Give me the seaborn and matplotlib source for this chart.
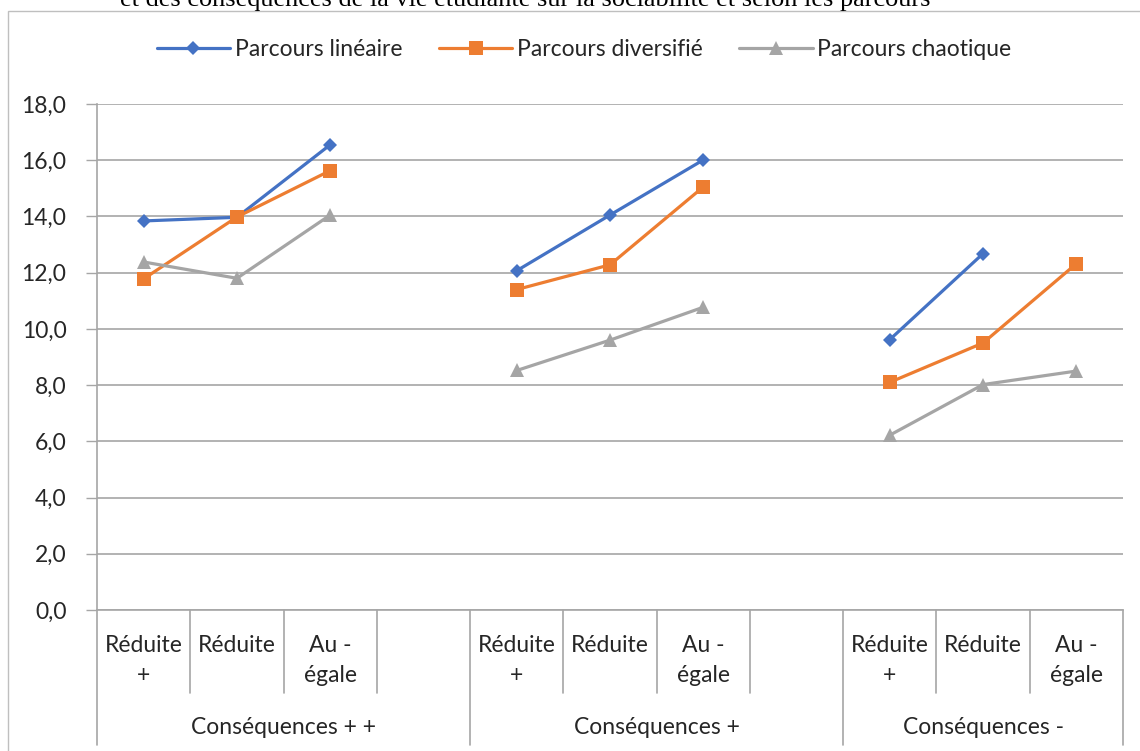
import numpy as np
import pandas as pd
import matplotlib
matplotlib.use("Agg")
import matplotlib.pyplot as plt
from matplotlib.lines import Line2D
from matplotlib.patches import Rectangle
import matplotlib.transforms as mtransforms
import seaborn as sns

# ---------------- data ----------------
groups = ["Conséquences + +", "Conséquences +", "Conséquences -"]
slot_labels = ["Réduite\n+", "Réduite", "Au -\négale", "",
               "Réduite\n+", "Réduite", "Au -\négale", "",
               "Réduite\n+", "Réduite", "Au -\négale"]
slot_group = [0, 0, 0, 0, 1, 1, 1, 1, 2, 2, 2]

series_names = ["Parcours linéaire", "Parcours diversifié", "Parcours chaotique"]
lineaire = [13.84, 13.97, 16.55, np.nan, 12.07, 14.05, 16.01, np.nan, 9.62, 12.68, np.nan]
diversifie = [11.78, 13.98, 15.63, np.nan, 11.40, 12.28, 15.05, np.nan, 8.10, 9.50, 12.32]
chaotique = [12.38, 11.80, 14.05, np.nan, 8.52, 9.60, 10.77, np.nan, 6.22, 8.02, 8.50]

colors = ["#4472C4", "#ED7D31", "#A5A5A5"]
markers = ["D", "s", "^"]
msizes = [7, 10, 10.5]

# ---------------- figure ----------------
sns.set_theme(style="white")
plt.rcParams["font.family"] = ["Lato", "DejaVu Sans"]

W, H = 1140, 751
fig = plt.figure(figsize=(W / 100, H / 100), dpi=100)
ax = fig.add_axes([97 / W, 1 - 610 / H, (1123 - 97) / W, (610 - 104) / H])

# outer chart frame
fig.patches.append(Rectangle((8 / W, -0.05), 1.2, 1 - 11 / H + 0.05,
                             transform=fig.transFigure, fill=False,
                             edgecolor="#BFBFBF", linewidth=1.0, zorder=0))

# cut-off caption at the top
fig.text(120 / W, 1 - 6 / H,
         "et des conséquences de la vie étudiante sur la sociabilité et selon les parcours",
         family=["Liberation Serif", "DejaVu Serif"], fontsize=18.9,
         ha="left", va="baseline", color="black")

rows = []
for name, vals in zip(series_names, [lineaire, diversifie, chaotique]):
    for i, v in enumerate(vals):
        rows.append({"Parcours": name, "x": i, "valeur": v, "groupe": slot_group[i]})
df = pd.DataFrame(rows).dropna()

for name, c, m, ms in zip(series_names, colors, markers, msizes):
    sub = df[df["Parcours"] == name]
    sns.lineplot(data=sub, x="x", y="valeur", units="groupe", estimator=None,
                 color=c, marker=m, markersize=ms, markeredgewidth=0,
                 linewidth=2.3, ax=ax, legend=False, zorder=3)

ax.set_xlim(-0.5, len(slot_labels) - 0.5)
ax.set_ylim(0, 18)
ax.set_yticks(np.arange(0, 18.1, 2))
ax.set_yticklabels([f"{v:.1f}".replace(".", ",") for v in np.arange(0, 18.1, 2)],
                   fontsize=16.5)
ax.tick_params(axis="y", length=8, width=1, color="#A6A6A6", pad=14, left=True)
ax.set_xticks([])
ax.set_xlabel("")
ax.set_ylabel("")
ax.grid(axis="y", color="#A6A6A6", linewidth=1.2)
ax.set_axisbelow(True)
for s in ["top", "right"]:
    ax.spines[s].set_visible(False)
ax.spines["left"].set_color("#A6A6A6")
ax.spines["bottom"].set_color("#A6A6A6")
ax.spines["left"].set_linewidth(1.2)
ax.spines["bottom"].set_linewidth(1.2)

# multi-level category axis
trans = mtransforms.blended_transform_factory(ax.transData, ax.transAxes)
axh = 610 - 104
y_row1 = -(693 - 610) / axh
y_row2 = -(745 - 610) / axh
n = len(slot_labels)
for b in range(n + 1):
    xb = b - 0.5
    is_group_edge = (b == 0 or b == n or slot_group[b] != slot_group[b - 1])
    ax.plot([xb, xb], [0, y_row2 if is_group_edge else y_row1], transform=trans,
            color="#A6A6A6", linewidth=1.2, clip_on=False)
for i, lab in enumerate(slot_labels):
    ax.text(i, -(635 - 610) / axh, lab, transform=trans, ha="center", va="top",
            fontsize=16.5, linespacing=1.55)
for g, gname in enumerate(groups):
    idx = [i for i, sg in enumerate(slot_group) if sg == g]
    xc = (idx[0] - 0.5 + idx[-1] + 0.5) / 2
    ax.text(xc, -(728 - 610) / axh, gname, transform=trans, ha="center", va="center",
            fontsize=16.5)

# legend
handles = [Line2D([], [], color=c, marker=m, markersize=ms, markeredgewidth=0,
                  linewidth=2.3) for c, m, ms in zip(colors, markers, msizes)]
fig.legend(handles, series_names, loc="center", bbox_to_anchor=(584 / W, 1 - 50 / H),
           ncol=3, frameon=False, fontsize=16.5, handlelength=3.2,
           handletextpad=0.2, columnspacing=1.6)

fig.savefig("out.png", dpi=100)
